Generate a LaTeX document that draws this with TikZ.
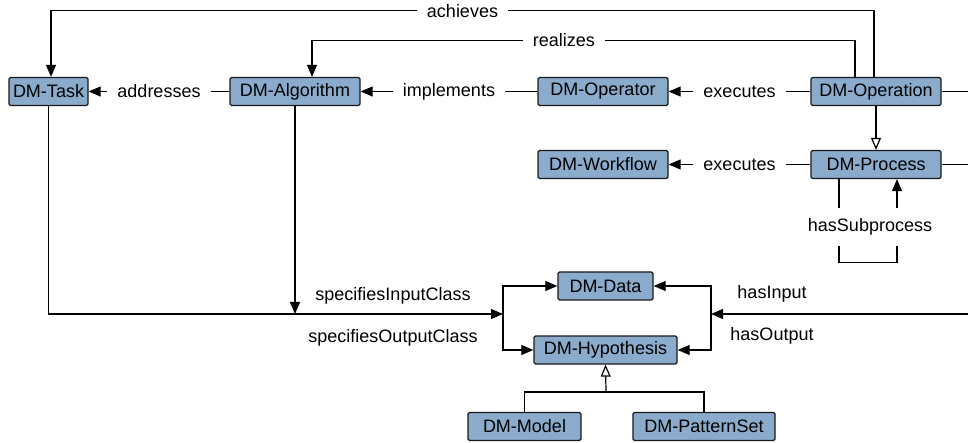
\documentclass[tikz,border=0pt]{standalone}
\usepackage{fontspec}
\setmainfont{Liberation Sans}
\usetikzlibrary{arrows.meta}
\definecolor{clsblue}{RGB}{138,171,203}
\begin{document}
\begin{tikzpicture}[x=1pt,y=-1pt,line width=1.2pt,>={Triangle[width=10pt,length=12pt]},font=\fontsize{18}{21}\selectfont]
\tikzstyle{cls}=[rectangle,draw=black!90,fill=clsblue,rounded corners=1.5pt,minimum height=28pt,inner sep=2pt,line width=1.3pt]
\tikzstyle{lbl}=[fill=white,inner xsep=10pt,inner ysep=2pt]
\tikzstyle{gen}=[-{Triangle[open,width=10pt,length=12pt]}]
\useasboundingbox (0,0) rectangle (968,443);

\node[cls,minimum width=79pt](Task) at (48.5,91.5) {DM-Task};
\node[cls,minimum width=130pt](Algorithm) at (295,91.5) {DM-Algorithm};
\node[cls,minimum width=130pt](Operator) at (603,91.5) {DM-Operator};
\node[cls,minimum width=130pt](Operation) at (876,91.5) {DM-Operation};
\node[cls,minimum width=130pt](Workflow) at (603,164.5) {DM-Workflow};
\node[cls,minimum width=130pt](Process) at (876,164.5) {DM-Process};
\node[cls,minimum width=95pt](Data) at (605.5,286) {DM-Data};
\node[cls,minimum width=143pt](Hypothesis) at (605.5,350) {DM-Hypothesis};
\node[cls,minimum width=113pt](Model) at (524.5,426.5) {DM-Model};
\node[cls,minimum width=142pt](PatternSet) at (704,426.5) {DM-PatternSet};

\coordinate (opEdge) at (968,91.5);
\coordinate (procEdge) at (968,164.5);
\coordinate (inEdge) at (968,314);
\coordinate (specFork) at (503,314);
\coordinate (ioFork) at (711,314);
\coordinate (genJoin) at (606,392);

\draw[->] (Algorithm) -- node[lbl]{addresses} (Task);
\draw[->] (Operator) -- node[lbl]{implements} (Algorithm);
\draw[->] (Operation) -- node[lbl]{executes} (Operator);
\draw[->] (Process) -- node[lbl]{executes} (Workflow);
\draw[->] ([xshift=-2pt]Operation.north) -- ++(0,-66) -| node[lbl,pos=0.25]{achieves} ([xshift=2.5pt]Task.north);
\draw[->] ([xshift=-21pt]Operation.north) -- ++(0,-36.5) -| node[lbl,pos=0.268]{realizes} ([xshift=17pt]Algorithm.north);
\draw (Operation.east) -- (opEdge);
\draw (Process.east) -- (procEdge);
\draw[gen] (Operation) -- (Process);

\draw[->] ([xshift=-37pt]Process.south) -- ++(0,83) -| ([xshift=21pt]Process.south);
\node[fill=white,inner xsep=2pt,inner ysep=11pt](subLbl) at (870,227) {hasSubprocess};

\draw[->] (Task.south) |- (specFork);
\draw[->] (Algorithm.south) -- (Algorithm.south |- specFork);
\draw[->] (specFork) |- (Data.west);
\draw[->] (specFork) |- (Hypothesis.west);
\draw[->] (inEdge) -- (ioFork);
\draw[->] (ioFork) |- (Data.east);
\draw[->] (ioFork) |- (Hypothesis.east);

\node(inClass) at (393,296) {specifiesInputClass};
\node(outClass) at (393,338) {specifiesOutputClass};
\node(hasIn) at (772,294) {hasInput};
\node(hasOut) at (772,336) {hasOutput};

\draw (Model.north) |- (genJoin) -| (PatternSet.north);
\draw[gen] (genJoin) -- (Hypothesis.south);
\end{tikzpicture}
\end{document}
